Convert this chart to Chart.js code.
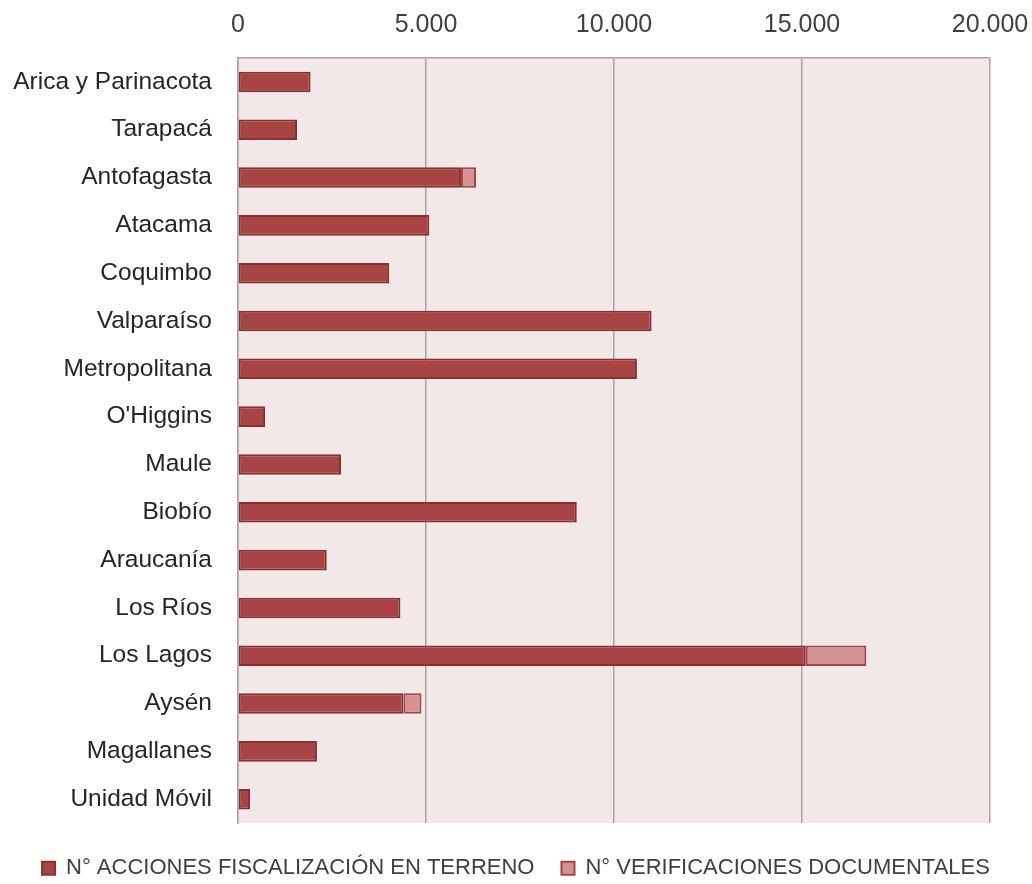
<!doctype html>
<html lang="es">
<head>
<meta charset="utf-8">
<title>Fiscalización por región</title>
<script src="https://cdn.jsdelivr.net/npm/chart.js"></script>
<style>
  html, body { margin: 0; padding: 0; background: #fff; }
  #wrap { width: 1032px; height: 884px; }
</style>
</head>
<body>
<div id="wrap"><canvas id="grafico" width="1032" height="884"></canvas></div>
<script>
const regiones = ['Arica y Parinacota', 'Tarapacá', 'Antofagasta', 'Atacama', 'Coquimbo', 'Valparaíso',
  'Metropolitana', "O'Higgins", 'Maule', 'Biobío', 'Araucanía', 'Los Ríos', 'Los Lagos', 'Aysén',
  'Magallanes', 'Unidad Móvil'];
const accionesTerreno = [1930, 1570, 5930, 5090, 4020, 11000, 10610, 720, 2740, 9010, 2360, 4320, 15100, 4400, 2100, 320];
const verificacionesDoc = [0, 0, 400, 0, 0, 0, 0, 0, 0, 0, 0, 0, 1610, 480, 0, 0];
const ejeMax = 20000;
const ejePaso = 5000;

function miles(v) {
  return String(v).replace(/\B(?=(\d{3})+(?!\d))/g, '.');
}

// fondo rosado del area de trazado
const fondoPlot = {
  id: 'fondoPlot',
  beforeDraw(chart) {
    const a = chart.chartArea;
    const c = chart.ctx;
    c.save();
    c.fillStyle = '#F2E8E8';
    c.fillRect(a.left, a.top, a.right - a.left, a.bottom - a.top);
    c.restore();
  }
};

const fuente = "'Liberation Sans', Arial, sans-serif";

new Chart(document.getElementById('grafico'), {
  type: 'bar',
  data: {
    labels: regiones,
    datasets: [
      {
        label: 'N° ACCIONES FISCALIZACIÓN EN TERRENO',
        data: accionesTerreno,
        backgroundColor: '#A84444',
        borderColor: '#883030',
        borderWidth: 2,
        borderSkipped: false
      },
      {
        label: 'N° VERIFICACIONES DOCUMENTALES',
        data: verificacionesDoc,
        backgroundColor: '#D49494',
        borderColor: '#A54444',
        borderWidth: 2,
        borderSkipped: false
      }
    ]
  },
  options: {
    indexAxis: 'y',
    responsive: false,
    animation: false,
    devicePixelRatio: 1,
    layout: { padding: { left: 0, right: 0, top: 0, bottom: -5.3 } },
    datasets: {
      bar: { categoryPercentage: 1, barPercentage: 0.43 }
    },
    scales: {
      x: {
        position: 'top',
        stacked: true,
        min: 0,
        max: ejeMax,
        afterFit(scale) {
          scale.height = 58;
          scale.paddingLeft = 0;
          scale.paddingRight = 0;
        },
        afterBuildTicks(scale) {
          const t = [];
          for (let v = 0; v <= ejeMax; v += ejePaso) t.push({ value: v });
          scale.ticks = t;
        },
        grid: { color: '#A6A6A6', lineWidth: 1.5, drawTicks: false },
        border: { color: '#A6A6A6', width: 1.5 },
        ticks: {
          padding: 18,
          color: '#404040',
          font: { family: fuente, size: 25 },
          callback: (v) => miles(v),
          maxRotation: 0
        }
      },
      y: {
        stacked: true,
        afterFit(scale) { scale.width = 238; },
        grid: { display: false, drawTicks: false },
        border: { color: '#A6A6A6', width: 1.5 },
        ticks: {
          padding: 26,
          color: '#262626',
          font: { family: fuente, size: 24.5 }
        }
      },
      // margen derecho vacio
      margenDer: {
        position: 'right',
        type: 'category',
        display: true,
        afterFit(scale) { scale.width = 42; },
        grid: { display: false, drawTicks: false },
        border: { display: false },
        ticks: { display: false }
      }
    },
    plugins: {
      tooltip: { enabled: false },
      legend: {
        position: 'bottom',
        title: { display: true, text: '', font: { size: 1 }, padding: 3 },
        labels: {
          color: '#404040',
          font: { family: fuente, size: 22 },
          boxWidth: 13,
          boxHeight: 13,
          padding: 27
        }
      }
    }
  },
  plugins: [fondoPlot]
});
</script>
</body>
</html>
